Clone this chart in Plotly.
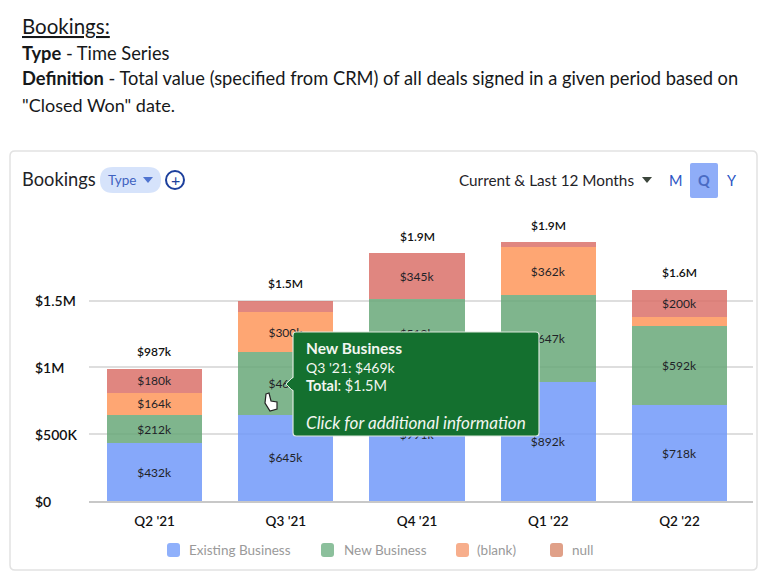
import plotly.graph_objects as go

quarters = ["Q2 '21", "Q3 '21", "Q4 '21", "Q1 '22", "Q2 '22"]
existing = [432, 645, 991, 892, 718]
new_business = [212, 469, 519, 647, 592]
blank = [164, 300, 0, 362, 69]
null_vals = [180, 86, 345, 37, 200]
totals = [a + b + c + d for a, b, c, d in zip(existing, new_business, blank, null_vals)]
total_labels = ['$987k', '$1.5M', '$1.9M', '$1.9M', '$1.6M']
y_ticks = [0, 500, 1000, 1500]
y_tick_labels = ['$0', '$500K', '$1M', '$1.5M']

W, H = 774, 588
L, R, T, B = 89, 21, 215, 87
FONT = 'Lato'
DARK = '#1f2328'


# page pixels to paper coords, for the card and the tooltip
def px(x):
    return (x - L) / (W - L - R)


def py(y):
    return (H - B - y) / (H - T - B)


def box(x0, y0, x1, y1, r):
    a, b, c, d = px(x0), py(y0), px(x1), py(y1)
    rx, ry = r / (W - L - R), r / (H - T - B)
    return (f'M{a + rx},{b} L{c - rx},{b} Q{c},{b} {c},{b - ry} L{c},{d + ry} Q{c},{d} {c - rx},{d} '
            f'L{a + rx},{d} Q{a},{d} {a},{d + ry} L{a},{b - ry} Q{a},{b} {a + rx},{b} Z')


def poly(points):
    return 'M' + ' L'.join(f'{px(x)},{py(y)}' for x, y in points) + ' Z'


def labels(values):
    return [f'${v}k' if v >= 100 else '' for v in values]


fig = go.Figure()
series = [
    ('Existing Business', existing, '#7199f9'),
    ('New Business', new_business, '#69a879'),
    ('(blank)', blank, '#fe965b'),
    ('null', null_vals, '#da716a'),
]
for name, values, color in series:
    fig.add_trace(go.Bar(
        x=quarters, y=values, name=name, text=labels(values), showlegend=False,
        textposition='inside', insidetextanchor='middle', textangle=0,
        textfont=dict(size=12, color=DARK, family=FONT),
        marker=dict(color=color, opacity=0.85, line_width=0),
    ))

shapes = [
    dict(type='path', path=box(10, 151, 757, 570, 5), line=dict(color='#e2e2e2', width=1.5), layer='below'),
    dict(type='path', path=box(100, 167, 161, 193, 13), fillcolor='#d6e3fb', line_width=0),
    dict(type='circle', x0=px(166), x1=px(184), y0=py(189), y1=py(171),
         line=dict(color='#1c3f9c', width=2)),
    dict(type='path', path=box(690, 163, 718, 198, 2), fillcolor='#8fadf8', line_width=0),
    dict(type='path', path=poly([(143, 177), (153, 177), (148, 183)]), fillcolor='#4f74d0', line_width=0),
    dict(type='path', path=poly([(642, 177), (652, 177), (647, 183)]), fillcolor='#3c463c', line_width=0),
    # tooltip
    dict(type='path', path=box(293, 332, 539, 436, 3), fillcolor='#14702f', line=dict(color='#dbe8dc', width=1.2)),
    dict(type='path', path=poly([(293, 377), (286, 384), (293, 391)]), fillcolor='#14702f',
         line=dict(color='#dbe8dc', width=1)),
    dict(type='path', path=poly([(294, 377), (288, 384), (294, 391)]), fillcolor='#14702f', line_width=0),
    # hand cursor
    dict(type='path', path=poly([(266, 394), (269, 393), (271, 401), (277, 402), (277, 409), (270, 411), (265, 403)]),
         fillcolor='#ffffff', line=dict(color='#222222', width=1.2)),
]

# legend is drawn by hand because plotly swatches can't be rounded
legend_items = [
    (167, 189, 'Existing Business', '#8fb0fb'),
    (321, 344, 'New Business', '#8cc09c'),
    (456, 477, '(blank)', '#f7ae8c'),
    (550, 572, 'null', '#e0a088'),
]
for sx, tx, name, color in legend_items:
    shapes.append(dict(type='path', path=box(sx, 543, sx + 13, 557, 3), fillcolor=color, line_width=0))

for s in shapes:
    s.setdefault('xref', 'paper')
    s.setdefault('yref', 'paper')

texts = [
    (22, 26, '<span style="text-decoration:underline">Bookings:</span>', 20.5, '#16181a'),
    (22, 52.5, '<b>Type</b> - Time Series', 18.3, '#16181a'),
    (22, 78, '<b>Definition</b> - Total value (specified from CRM) of all deals signed in a given period based on',
     18.3, '#16181a'),
    (22, 105, '"Closed Won" date.', 18, '#16181a'),
    (22, 179, 'Bookings', 18.3, '#1f2328'),
    (108, 180, 'Type', 13.5, '#3f62c0'),
    (459, 180, 'Current &amp; Last 12 Months', 15.3, '#1f2328'),
    (669, 180, 'M', 14.5, '#2c55c4'),
    (698, 180, '<b>Q</b>', 14.5, '#4a6bc4'),
    (727, 180, 'Y', 14.5, '#2c55c4'),
    (170.5, 179, '+', 16, '#1c3f9c'),
    (306, 348, '<b>New Business</b>', 15.5, '#f2f6f0'),
    (306, 367, "Q3 '21: $469k", 14, '#f2f6f0'),
    (306, 385, '<b>Total</b>: $1.5M', 14.5, '#f2f6f0'),
    (306, 422, '<i>Click for additional information</i>', 17.1, '#f2f6f0'),
]
texts += [(tx, 550, name, 13.5, '#9a9a9a') for sx, tx, name, color in legend_items]
annotations = [
    dict(x=px(x), y=py(y), xref='paper', yref='paper', text=t, showarrow=False, xanchor='left', yanchor='middle',
         font=dict(size=size, color=color, family=FONT), borderpad=0, borderwidth=0)
    for x, y, t, size, color in texts
]
# y tick labels sit left aligned in the original
for tick, label in zip(y_ticks, y_tick_labels):
    annotations.append(dict(
        x=px(33), y=tick, xref='paper', yref='y', text=label, showarrow=False, xanchor='left', yanchor='middle',
        font=dict(size=14, color='#111111', family=FONT, weight=600),
    ))
# totals above the stacks
for q, total, label in zip(quarters, totals, total_labels):
    annotations.append(dict(
        x=q, y=total, xref='x', yref='y', text=label, showarrow=False, yanchor='middle', yshift=17,
        font=dict(size=12, color='#111111', family=FONT, weight=600),
    ))

fig.update_layout(
    width=W, height=H, barmode='stack', bargap=0.275,
    margin=dict(l=L, r=R, t=T, b=B, autoexpand=False),
    paper_bgcolor='white', plot_bgcolor='white',
    font=dict(family=FONT, color=DARK),
    shapes=shapes, annotations=annotations, showlegend=False,
    xaxis=dict(
        range=[-0.5, 4.56],
        tickfont=dict(size=13.5, color='#111111', family=FONT, weight=600), ticks='', showgrid=False,
        showline=True, linecolor='#c8c8c8', linewidth=2, ticklabelstandoff=7, fixedrange=True,
    ),
    yaxis=dict(
        range=[0, 2140], tickvals=y_ticks, showticklabels=False,
        ticks='', gridcolor='#dedede', gridwidth=1.5,
        zeroline=False, fixedrange=True,
    ),
)

fig.write_html('out.html', post_script="document.body.style.margin='0';", config={'displayModeBar': False})
